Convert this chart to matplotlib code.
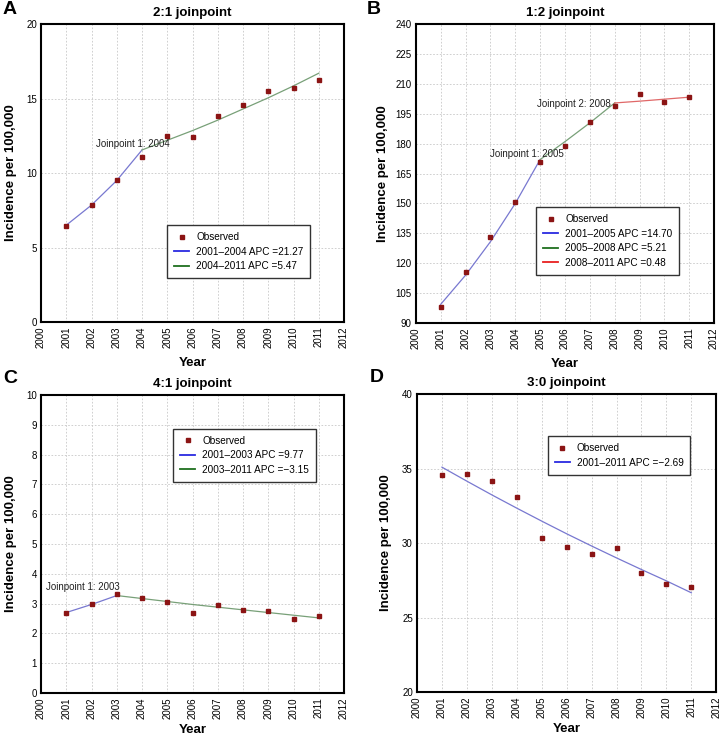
import matplotlib
matplotlib.use("Agg")
from matplotlib import pyplot as plt
from matplotlib.lines import Line2D

plt.rcParams["font.family"] = ["Liberation Sans", "DejaVu Sans"]

YEARS = list(range(2001, 2012))

# observed incidence per panel
OBS_A = [6.45, 7.85, 9.55, 11.05, 12.5, 12.45, 13.8, 14.55, 15.5, 15.7, 16.25]
OBS_B = [98.0, 115.8, 133.3, 150.6, 171.0, 178.8, 191.0, 199.0, 205.0, 200.7, 203.3]
OBS_C = [2.68, 3.0, 3.32, 3.18, 3.06, 2.70, 2.94, 2.78, 2.76, 2.49, 2.57]
OBS_D = [34.54, 34.63, 34.16, 33.11, 30.34, 29.71, 29.26, 29.69, 28.0, 27.25, 27.02]

# fitted joinpoint segments: (years, values, legend label)
FIT_A = [
    ([2001, 2002, 2003, 2004], [6.5, 7.85, 9.5, 11.55], "2001\u20132004 APC =21.27"),
    ([2004, 2005, 2006, 2007, 2008, 2009, 2010, 2011],
     [11.55, 12.2, 12.85, 13.55, 14.3, 15.05, 15.85, 16.7], "2004\u20132011 APC =5.47"),
]
FIT_B = [
    ([2001, 2002, 2003, 2004, 2005], [99.4, 114.0, 130.8, 150.0, 172.0],
     "2001\u20132005 APC =14.70"),
    ([2005, 2006, 2007, 2008], [172.0, 181.0, 190.4, 200.4], "2005\u20132008 APC =5.21"),
    ([2008, 2009, 2010, 2011], [200.4, 201.3, 202.3, 203.3], "2008\u20132011 APC =0.48"),
]
FIT_C = [
    ([2001, 2002, 2003], [2.7, 2.97, 3.27], "2001\u20132003 APC =9.77"),
    ([2003, 2004, 2005, 2006, 2007, 2008, 2009, 2010, 2011],
     [3.27, 3.17, 3.07, 2.97, 2.88, 2.79, 2.70, 2.61, 2.52], "2003\u20132011 APC =\u22123.15"),
]
FIT_D = [
    (YEARS, [35.09, 34.15, 33.23, 32.34, 31.47, 30.62, 29.80, 29.00, 28.22, 27.46, 26.66],
     "2001\u20132011 APC =\u22122.69"),
]

# fitted lines are drawn thin and pale; the legend keys are the saturated versions
LINE_COLORS = ["#7878d0", "#78a078", "#e06868"]
LEG_COLORS = ["#2a2ae0", "#1f6f1f", "#e82020"]
MARKER = "#8b1414"

PANELS = [
    # letter, title, obs, fits, ylim, ystep, axes rect, legend anchor, annotations
    ("A", "2:1 joinpoint", OBS_A, FIT_A, (0, 20), 5,
     [0.0568, 0.563, 0.4197, 0.4044], (0.416, 0.3255),
     [(2003.65, 11.95, "Joinpoint 1: 2004")]),
    ("B", "1:2 joinpoint", OBS_B, FIT_B, (90, 240), 15,
     [0.576, 0.5617, 0.413, 0.4057], (0.403, 0.388),
     [(2004.46, 174.8, "Joinpoint 1: 2005"), (2006.34, 199.9, "Joinpoint 2: 2008")]),
    ("C", "4:1 joinpoint", OBS_C, FIT_C, (0, 10), 1,
     [0.0568, 0.0597, 0.4197, 0.4044], (0.436, 0.886),
     [(2001.66, 3.57, "Joinpoint 1: 2003")]),
    ("D", "3:0 joinpoint", OBS_D, FIT_D, (20, 40), 5,
     [0.5776, 0.061, 0.4145, 0.4044], (0.436, 0.859), []),
]
LETTER_POS = {"A": (0.004, 0.998), "B": (0.508, 0.998), "C": (0.004, 0.498), "D": (0.512, 0.500)}
YLABEL_X = {"A": -0.080, "B": -0.090, "C": -0.080, "D": -0.084}
XLABEL_Y = {"A": -0.118, "B": -0.118, "C": -0.104, "D": -0.104}

fig = plt.figure(figsize=(7.22, 7.37), dpi=100)

for letter, title, obs, fits, ylim, ystep, rect, anchor, notes in PANELS:
    ax = fig.add_axes(rect)
    handles = [Line2D([], [], linestyle="none", marker="s", markersize=2.6,
                      color=MARKER, label="Observed")]
    for i, (xs, ys, label) in enumerate(fits):
        ax.plot(xs, ys, color=LINE_COLORS[i], linewidth=0.9, zorder=2)
        handles.append(Line2D([], [], color=LEG_COLORS[i], linewidth=1.3, label=label))
    ax.plot(YEARS, obs, linestyle="none", marker="s", markersize=3.3, color=MARKER, zorder=3)

    for x, y, text in notes:
        ax.text(x, y, text, ha="center", va="center", fontsize=7, color="#222222", zorder=4)

    ax.set_xlim(2000, 2012)
    ax.set_xticks(range(2000, 2013))
    ax.set_ylim(*ylim)
    ax.set_yticks(range(ylim[0], ylim[1] + 1, ystep))
    ax.tick_params(axis="both", length=0, labelsize=7, pad=3)
    ax.tick_params(axis="x", labelrotation=90)
    ax.grid(True, color="#c8c8c8", linewidth=0.6, linestyle=(0, (2, 2)))
    ax.set_axisbelow(True)
    for side in ax.spines.values():
        side.set_linewidth(1.5)
        side.set_color("black")

    ax.set_title(title, fontsize=9.5, fontweight="bold", pad=6)
    ax.set_xlabel("Year", fontsize=9.5, fontweight="bold")
    ax.xaxis.set_label_coords(0.5, XLABEL_Y[letter])
    ax.set_ylabel("Incidence per 100,000", fontsize=9.5, fontweight="bold")
    ax.yaxis.set_label_coords(YLABEL_X[letter], 0.5)

    leg = ax.legend(handles=handles, loc="upper left", bbox_to_anchor=anchor,
                    fontsize=7.2, frameon=True, fancybox=False, framealpha=1,
                    edgecolor="#333333", handlelength=1.5, handletextpad=0.7,
                    borderpad=0.7, labelspacing=0.45, borderaxespad=0)
    leg.get_frame().set_linewidth(1.0)

    fig.text(*LETTER_POS[letter], letter, fontsize=14, fontweight="bold",
             ha="left", va="top")

fig.savefig("out.png", dpi=100)
